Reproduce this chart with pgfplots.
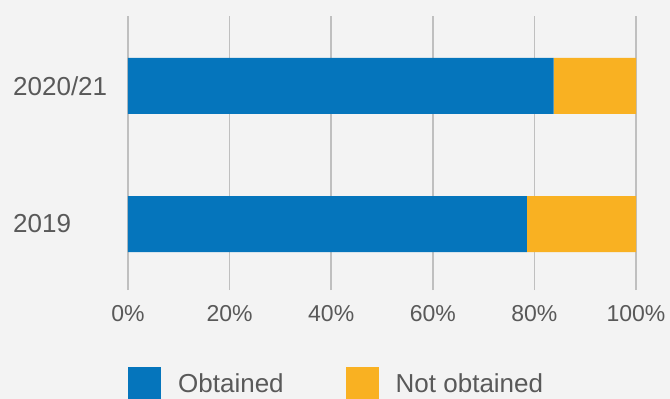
\documentclass[border=0pt]{standalone}
\usepackage{pgfplots}
\pgfplotsset{compat=1.18}
\usepackage{fontspec}
\setmainfont{Liberation Sans}
\definecolor{bgcol}{RGB}{243,243,243}
\definecolor{blueO}{RGB}{5,117,188}
\definecolor{orangeN}{RGB}{249,177,34}
\definecolor{gridc}{RGB}{191,191,191}
\definecolor{txt}{RGB}{89,89,89}
\begin{document}
\begin{tikzpicture}
\fill[bgcol] (-128pt,-109pt) rectangle (542pt,290pt);
\begin{axis}[
  at={(0pt,0pt)}, anchor=south west,
  width=508pt, height=274pt, scale only axis,
  xmin=0, xmax=100, ymin=-0.478, ymax=1.507,
  xbar stacked, bar width=56pt,
  axis line style={draw=none},
  xmajorgrids, major grid style={color=gridc, line width=1.5pt},
  major tick length=0pt,
  xtick={0,20,40,60,80,100},
  xticklabels={0\%,20\%,40\%,60\%,80\%,100\%},
  ytick={0,1}, yticklabels={2019,2020/21},
  ticklabel style={text=txt, inner sep=0pt},
  xticklabel style={font=\fontsize{23}{27}\selectfont, anchor=north, yshift=-15pt},
  yticklabel style={font=\fontsize{26}{30}\selectfont, anchor=west, xshift=-115pt},
  legend style={draw=none, fill=none, inner sep=0pt, at={(0,-0.343)}, anchor=west,
    font=\fontsize{26}{30}\selectfont, text=txt, nodes={inner sep=0pt},
    legend columns=2,
    /tikz/every odd column/.append style={column sep=17pt},
    /tikz/every even column/.append style={column sep=62pt}},
  legend image code/.code={\fill[#1, draw=none] (0pt,-16.5pt) rectangle (33pt,16.5pt);},
]
\addplot[fill=blueO, draw=none] coordinates {(78.5,0) (83.8,1)};
\addplot[fill=orangeN, draw=none] coordinates {(21.5,0) (16.2,1)};
\legend{Obtained, Not obtained}
\end{axis}
\pgfresetboundingbox
\useasboundingbox (-128pt,-109pt) rectangle (542pt,290pt);
\end{tikzpicture}
\end{document}
